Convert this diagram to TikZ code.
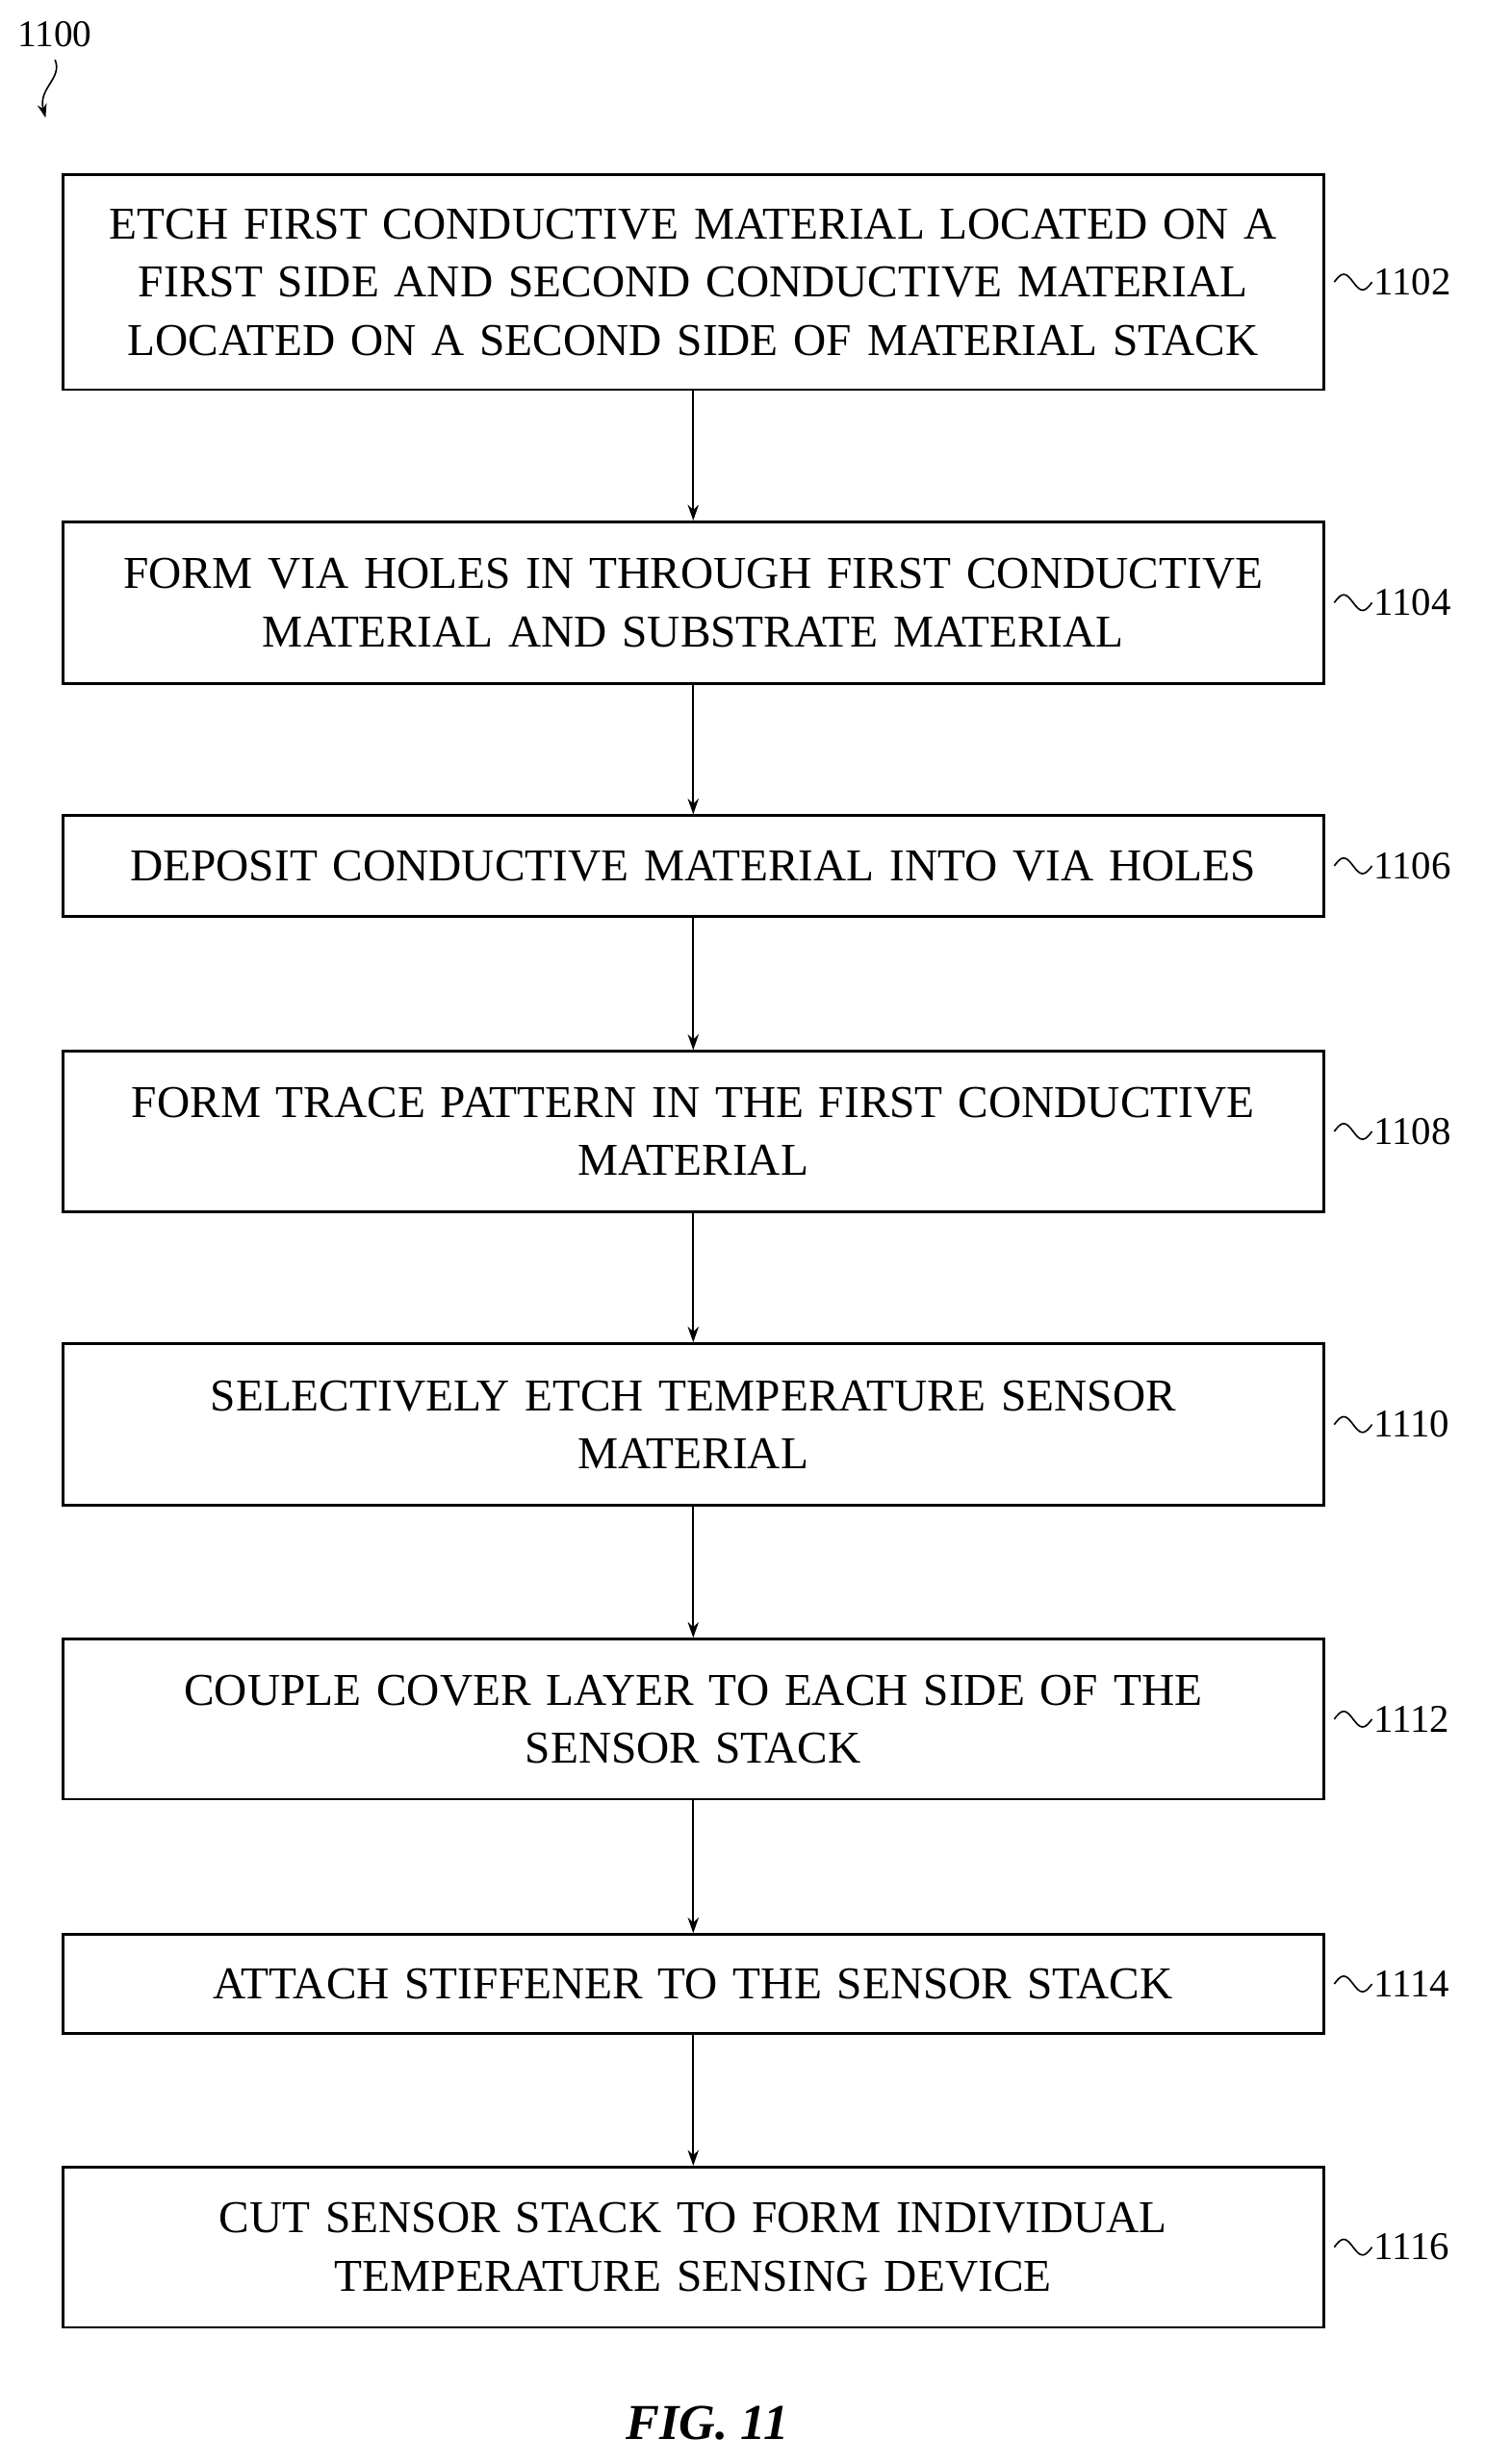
\documentclass[tikz,border=0pt]{standalone}
\usepackage{fontspec}
\setmainfont{Liberation Serif}
\usetikzlibrary{arrows.meta}
\begin{document}
\begin{tikzpicture}[x=1pt,y=-1pt,
 box/.style={draw,line width=1.6pt,minimum width=802pt,text width=800pt,align=center,inner sep=0pt,font=\fontsize{29}{37}\selectfont},
 lab/.style={font=\fontsize{25}{26}\selectfont,anchor=west,inner sep=0pt},
 arr/.style={-{Stealth[length=10pt,width=7pt]},line width=1pt}]
\useasboundingbox (0,0) rectangle (945,1568);
\def\stp#1#2#3#4#5{% name, top, bottom, label, text
 \node[box,minimum height={(#3-#2)*1pt}] (#1) at (441,{(#2+#3)/2}) {#5};
 \draw[line width=1pt] (#1.east) ++(6,0) sin ++(6,-5) cos ++(6,5) sin ++(6,5) cos ++(6,-5) coordinate (#1w);
 \node[lab] (#1l) at ([xshift=1pt]#1w) {#4};}
\stp{a}{111}{248}{1102}{ETCH FIRST CONDUCTIVE MATERIAL LOCATED ON A\\FIRST SIDE AND SECOND CONDUCTIVE MATERIAL\\LOCATED ON A SECOND SIDE OF MATERIAL STACK}
\stp{b}{332}{435}{1104}{FORM VIA HOLES IN THROUGH FIRST CONDUCTIVE\\MATERIAL AND SUBSTRATE MATERIAL}
\stp{c}{519}{583}{1106}{DEPOSIT CONDUCTIVE MATERIAL INTO VIA HOLES}
\stp{d}{669}{771}{1108}{FORM TRACE PATTERN IN THE FIRST CONDUCTIVE\\MATERIAL}
\stp{e}{855}{958}{1110}{SELECTIVELY ETCH TEMPERATURE SENSOR\\MATERIAL}
\stp{f}{1043}{1145}{1112}{COUPLE COVER LAYER TO EACH SIDE OF THE\\SENSOR STACK}
\stp{g}{1231}{1294}{1114}{ATTACH STIFFENER TO THE SENSOR STACK}
\stp{h}{1379}{1481}{1116}{CUT SENSOR STACK TO FORM INDIVIDUAL\\TEMPERATURE SENSING DEVICE}
\foreach \u/\v in {a/b,b/c,c/d,d/e,e/f,f/g,g/h} \draw[arr] (\u.south) -- (\v.north);
\node[font=\fontsize{24}{26}\selectfont,anchor=west,inner sep=0pt] (n) at (11,22) {1100};
\coordinate (t) at (29,75);
\draw[arr,-{Stealth[length=9pt,width=6pt]}] (35,38) .. controls (40,50) and (24,56) .. (t);
\node[font=\bfseries\itshape\fontsize{32}{34}\selectfont] (fig) at (450,1542) {FIG. 11};
\end{tikzpicture}
\end{document}
